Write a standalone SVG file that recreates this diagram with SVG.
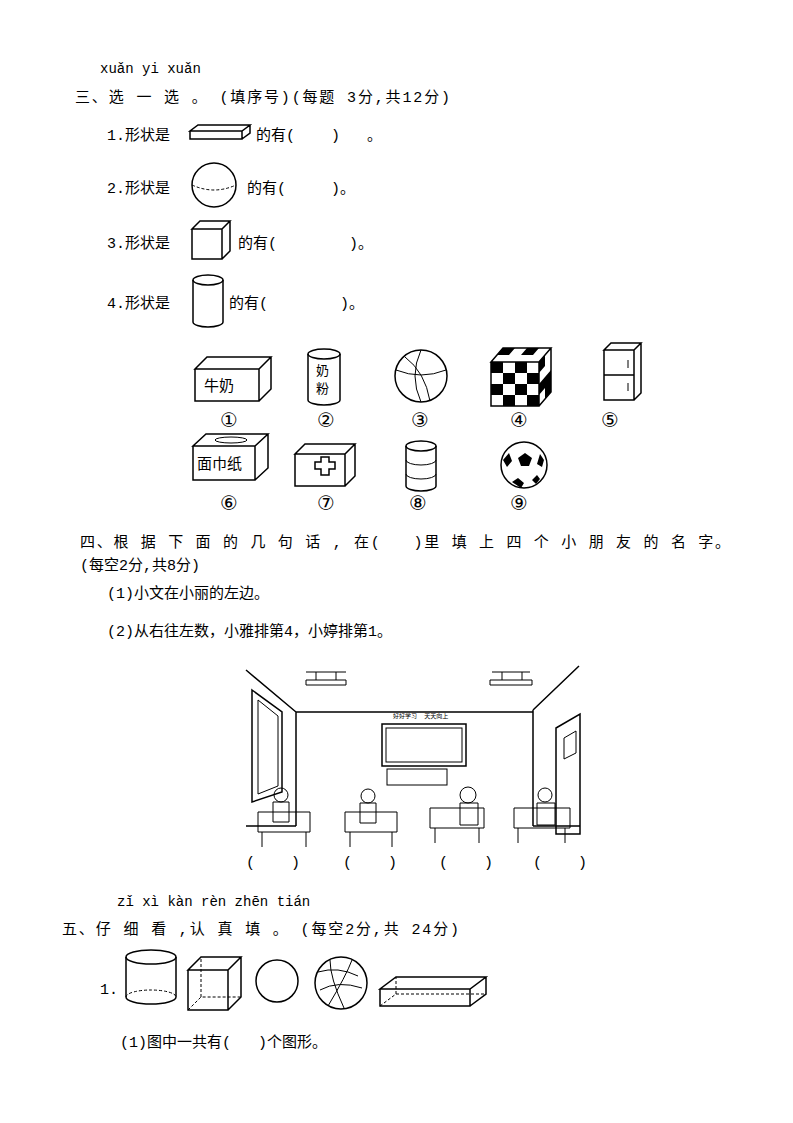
<svg xmlns="http://www.w3.org/2000/svg" width="793" height="1123" viewBox="0 0 793 1123">
<style>
text{font-family:"Liberation Mono","Noto Sans CJK SC",monospace;font-size:15px;fill:#000;white-space:pre}
.py{font-size:14px}
.s{fill:none;stroke:#000;stroke-width:1.5}
.t{fill:none;stroke:#000;stroke-width:1}
.d{fill:none;stroke:#000;stroke-width:1;stroke-dasharray:3,2}
text.n{font-size:20px;font-family:"DejaVu Sans",sans-serif}
text.sm{font-size:13px}
text.xs{font-size:6px}
</style>
<rect width="793" height="1123" fill="#fff"/>
<text class="py" x="100" y="73">xuǎn yi xuǎn</text>
<text x="75" y="102" textLength="375">三、选 一 选 。 (填序号)(每题 3分,共12分)</text>
<text x="107" y="140">1.形状是</text>
<g id="q1"><path class="s" d="M190 131h52l8-6h-52zM190 131v8h52v-8M242 139l8-6v-8"/></g>
<text x="256" y="140">的有(    )   。</text>
<text x="107" y="193">2.形状是</text>
<g id="q2"><circle class="s" cx="214" cy="185" r="22"/><path class="d" d="M192 185q22 10 44 0"/></g>
<text x="247" y="193">的有(     )。</text>
<text x="107" y="248">3.形状是</text>
<g id="q3"><path class="s" d="M192 229h30l8-8h-30zM192 229v30h30v-30M222 259l8-8v-30"/></g>
<text x="238" y="248">的有(        )。</text>
<text x="107" y="308">4.形状是</text>
<g id="q4"><path class="s" d="M193 280v42a15 5 0 0 0 30 0v-42"/><ellipse class="s" cx="208" cy="280" rx="15" ry="5"/></g>
<text x="229" y="308">的有(        )。</text>
<g id="obj1"><path class="s" d="M195 369h64l12-12h-64zM195 369v32h64v-32M259 401l12-12v-32"/><text x="204" y="391">牛奶</text></g>
<g id="obj2"><path class="s" d="M308 354v46a16 5 0 0 0 32 0v-46"/><ellipse class="s" cx="324" cy="354" rx="16" ry="5"/><text class="sm" x="316" y="375">奶</text><text class="sm" x="316" y="393">粉</text></g>
<g id="obj3"><circle class="s" cx="421" cy="376" r="26"/><path class="t" d="M396 370q25 10 50 0M421 350q-12 26 0 52M405 357q20 15 25 44"/></g>
<g id="obj4"><path class="s" d="M491 362h48l12-14h-48zM491 362v44h48v-44M539 406l12-14v-44"/>
<g fill="#000"><rect x="491" y="362" width="12" height="11"/><rect x="515" y="362" width="12" height="11"/><rect x="503" y="373" width="12" height="11"/><rect x="527" y="373" width="12" height="11"/><rect x="491" y="384" width="12" height="11"/><rect x="515" y="384" width="12" height="11"/><rect x="503" y="395" width="12" height="11"/><rect x="527" y="395" width="12" height="11"/><path d="M497 355h12l6-7h-12zM521 355h12l6-7h-12zM539 362l6-7v11l-6 7zM539 384l6-7v11l-6 7zM545 377l6-7v11l-6 7zM545 399l6-7v-11l-6 7z"/></g></g>
<g id="obj5"><path class="s" d="M604 350h30l7-7h-30zM604 350v50h30v-50M634 400l7-7v-50M604 375h30"/><path class="t" d="M628 360v8M628 383v8"/></g>
<text class="n" x="220" y="427">①</text><text class="n" x="317" y="427">②</text><text class="n" x="411" y="427">③</text><text class="n" x="510" y="427">④</text><text class="n" x="601" y="427">⑤</text>
<g id="obj6"><path class="s" d="M193 446h62l13-12h-62zM193 446v34h62v-34M255 480l13-12v-34"/><ellipse class="t" cx="231" cy="440" rx="16" ry="3"/><text x="197" y="469">面巾纸</text></g>
<g id="obj7"><path class="s" d="M295 454h50l10-10h-50zM295 454v32h50v-32M345 486l10-10v-32"/><path class="s" d="M315 462h6v-5h8v5h6v7h-6v6h-8v-6h-6z"/></g>
<g id="obj8"><path class="s" d="M406 446v40a15 5 0 0 0 30 0v-40"/><ellipse class="s" cx="421" cy="446" rx="15" ry="5"/><path class="t" d="M406 460a15 5 0 0 0 30 0M406 474a15 5 0 0 0 30 0"/></g>
<g id="obj9"><circle class="s" cx="524" cy="465" r="23"/><path fill="#000" d="M518 458l7-5 7 5-3 8h-8zM503 460l6-7 3 8-5 6zM540 454l4 6-2 7-5-3zM512 482l6-4 6 5-3 5zM532 480l5-5 3 4-4 5z"/></g>
<text class="n" x="220" y="510">⑥</text><text class="n" x="317" y="510">⑦</text><text class="n" x="409" y="510">⑧</text><text class="n" x="510" y="510">⑨</text>
<text x="80" y="547" textLength="650">四、根 据 下 面 的 几 句 话 , 在(   )里 填 上 四 个 小 朋 友 的 名 字。</text>
<text x="80" y="570">(每空2分,共8分)</text>
<text x="107" y="598">(1)小文在小丽的左边。</text>
<text x="107" y="636">(2)从右往左数，小雅排第4，小婷排第1。</text>
<g id="classroom">
<path class="s" d="M246 670l50 42M579 666l-46 44M296 712h237M296 712v114M533 710v116M246 826h50M533 826h47"/>
<path class="s" d="M252 690l30 22v80l-30 10z"/><path class="t" d="M258 700l20 16v70l-20 8z"/>
<path class="t" d="M306 672h40M316 672v8M336 672v8M306 680h40v5h-40z"/><path class="t" d="M492 672h38M502 672v8M522 672v8M490 680h42v5h-42z"/>
<text class="xs" x="393" y="718">好好学习  天天向上</text>
<rect class="s" x="382" y="724" width="84" height="42"/><rect class="t" x="386" y="728" width="76" height="34"/>
<path class="s" d="M556 728l24-14v120l-24 0z"/><path class="t" d="M564 738l12-7v22l-12 6z"/>
<rect class="t" x="387" y="769" width="60" height="16"/>
<g class="t"><path d="M258 812h52v20h-52zM262 832v15M306 832v15"/><circle cx="281" cy="795" r="7"/><path d="M273 802h16v20h-16z"/>
<path d="M345 812h52v20h-52zM350 832v15M392 832v15"/><circle cx="368" cy="796" r="7"/><path d="M360 803h16v20h-16z"/>
<path d="M430 808h54v20h-54zM435 828v15M479 828v15"/><circle cx="468" cy="795" r="8"/><path d="M460 803h18v22h-18z"/>
<path d="M514 808h56v20h-56zM518 828v15M565 828v15"/><circle cx="545" cy="795" r="7"/><path d="M537 803h18v22h-18z"/></g>
</g>
<text x="246" y="867">(    )</text><text x="343" y="867">(    )</text><text x="439" y="867">(    )</text><text x="533" y="867">(    )</text>
<text class="py" x="117" y="906">zǐ xì kàn rèn zhēn tián</text>
<text x="62" y="934" textLength="397">五、仔 细 看 ,认 真 填 。 (每空2分,共 24分)</text>
<text x="100" y="994">1.</text>
<g id="s1"><path class="s" d="M126 957v40a25 7 0 0 0 50 0v-40"/><ellipse class="s" cx="151" cy="957" rx="25" ry="7"/><path class="d" d="M126 997a25 7 0 0 1 50 0"/></g>
<g id="s2"><path class="s" d="M188 970h40l13-13h-40zM188 970v40h40v-40M228 1010l13-13v-40"/><path class="d" d="M188 1010l13-13h40M201 997v-40"/></g>
<circle class="s" cx="277" cy="981" r="21"/>
<g id="s4"><circle class="s" cx="341" cy="983" r="26"/><path class="t" d="M318 972q20-6 40 4M320 990q18-10 42-2M330 960q0 18 14 48M352 960q-6 16 -24 46"/></g>
<g id="s5"><path class="s" d="M380 989h90l16-12h-90zM380 989v17h90v-17M470 1006l16-12v-17"/><path class="d" d="M380 1006l16-12h90M396 994v-17"/></g>
<text x="120" y="1047">(1)图中一共有(   )个图形。</text>
</svg>
